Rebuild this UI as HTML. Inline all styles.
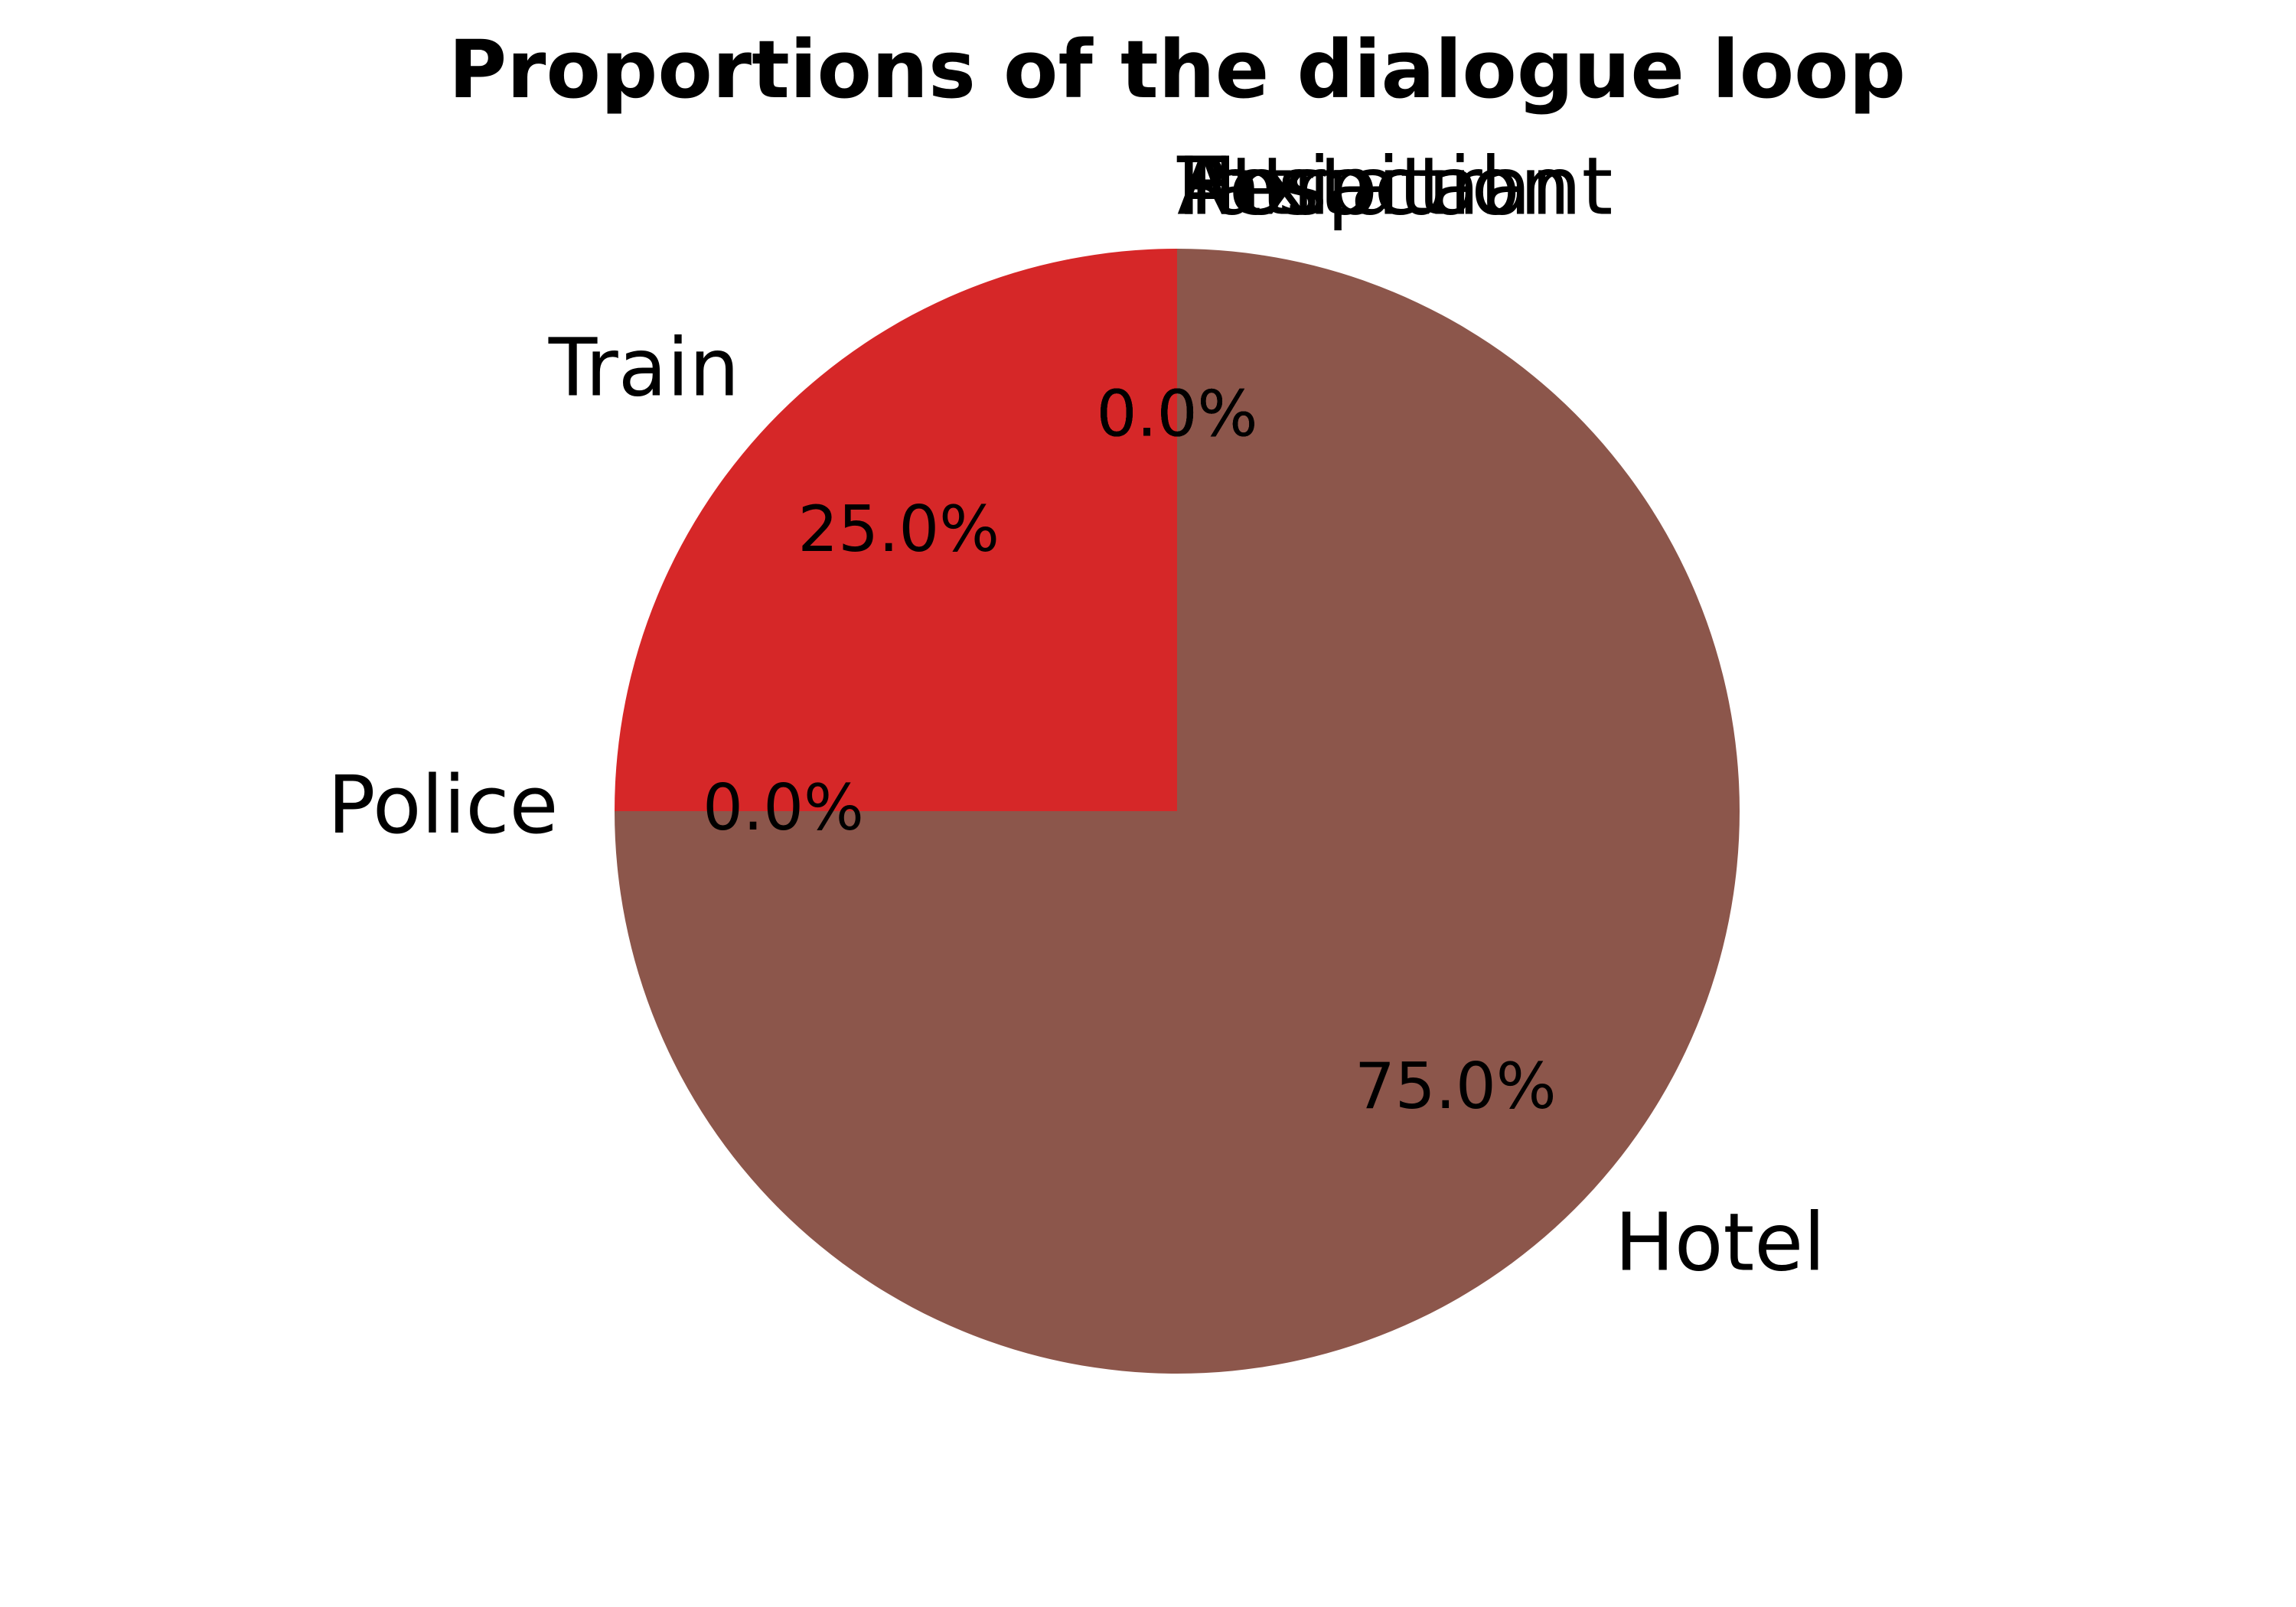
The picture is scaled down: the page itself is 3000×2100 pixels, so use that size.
<!DOCTYPE html>
<html><head><meta charset="utf-8">
<style>
html,body{margin:0;padding:0;background:#fff;}
svg{display:block;font-family:"DejaVu Sans","Liberation Sans",sans-serif;}
</style></head>
<body>
<svg id="chart" width="3000" height="2100" viewBox="0 0 3000 2100" xmlns="http://www.w3.org/2000/svg">
<rect width="3000" height="2100" fill="#fff"/>
<text x="1538" y="127" text-anchor="middle" font-size="104" font-weight="bold">Proportions of the dialogue loop</text>
<g id="wedges"></g>
<g id="labels"></g>
</svg>
<script>
const categories = ["Attraction","Hospital","Taxi","Train","Police","Hotel","Restaurant"];
const values = [0,0,0,1,0,3,0];
const colors = ["#1f77b4","#ff7f0e","#2ca02c","#d62728","#9467bd","#8c564b","#e377c2"];
const cx=1538, cy=1060, R=735, startAngle=90;
const NS="http://www.w3.org/2000/svg";
const total=values.reduce((a,b)=>a+b,0);
const wg=document.getElementById('wedges'), lg=document.getElementById('labels');
function pt(deg,r){const a=deg*Math.PI/180;return [cx+r*Math.cos(a), cy-r*Math.sin(a)];}
let ang=startAngle;
categories.forEach((cat,i)=>{
  const frac=values[i]/total, sweep=frac*360, a0=ang, a1=ang+sweep, mid=(a0+a1)/2;
  if(sweep>0){
    const p=document.createElementNS(NS,'path');
    let d;
    if(sweep>=359.999){d=`M${cx-R},${cy}A${R},${R} 0 1 0 ${cx+R},${cy}A${R},${R} 0 1 0 ${cx-R},${cy}Z`;}
    else{const [x0,y0]=pt(a0,R),[x1,y1]=pt(a1,R);
      d=`M${cx},${cy}L${x0},${y0}A${R},${R} 0 ${sweep>180?1:0} 0 ${x1},${y1}Z`;}
    p.setAttribute('d',d);p.setAttribute('fill',colors[i]);
    
    
    wg.appendChild(p);
  }
  const [lx,ly]=pt(mid,1.1*R);
  const cosm=Math.cos(mid*Math.PI/180);
  const t=document.createElementNS(NS,'text');
  t.setAttribute('x',lx);t.setAttribute('y',ly+28);
  t.setAttribute('font-size','104');
  t.setAttribute('text-anchor',cosm>=-1e-9?'start':'end');
  t.textContent=cat;
  
  
  lg.appendChild(t);
  const [px,py]=pt(mid,0.7*R);
  const q=document.createElementNS(NS,'text');
  q.setAttribute('x',px);q.setAttribute('y',py+24);
  q.setAttribute('font-size','83');q.setAttribute('text-anchor','middle');
  q.textContent=(frac*100).toFixed(1)+'%';
  
  
  lg.appendChild(q);
  ang=a1;
});
</script>
</body></html>
